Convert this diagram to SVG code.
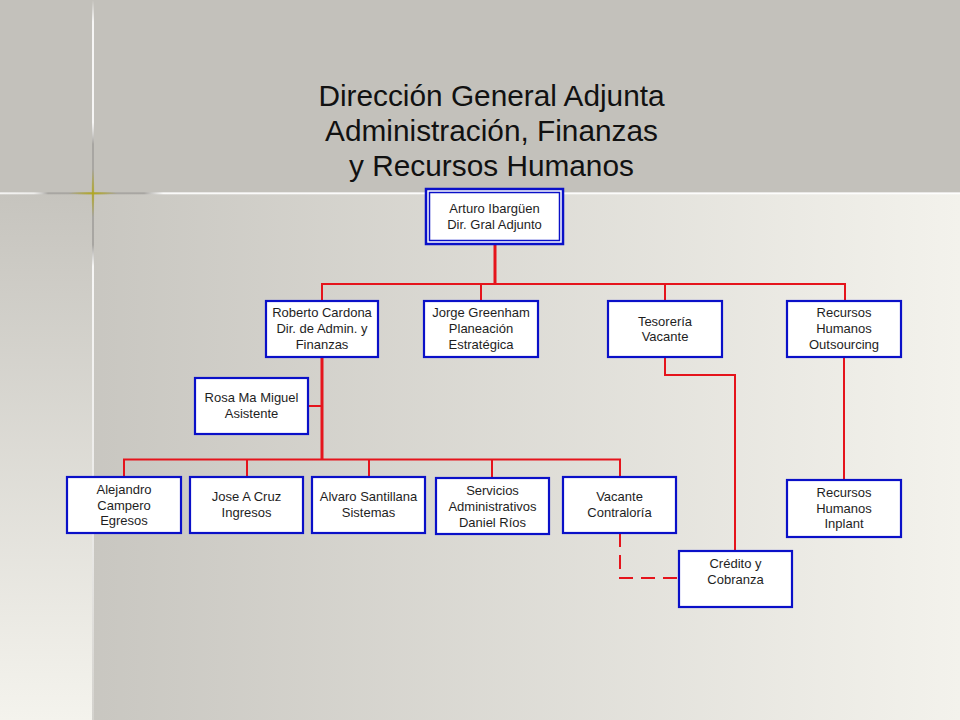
<svg xmlns="http://www.w3.org/2000/svg" width="960" height="720" viewBox="0 0 960 720">
<defs>
<linearGradient id="bgMain" x1="0" y1="0" x2="1" y2="0">
<stop offset="0" stop-color="#c4c2bc"/>
<stop offset="1" stop-color="#f3f2ec"/>
</linearGradient>
<linearGradient id="bgLeft" x1="0" y1="0" x2="0" y2="1">
<stop offset="0" stop-color="#c6c4be"/>
<stop offset="1" stop-color="#f4f3ed"/>
</linearGradient>
<linearGradient id="hLine" x1="0" y1="0" x2="960" y2="0" gradientUnits="userSpaceOnUse">
<stop offset="0" stop-color="#ffffff" stop-opacity="0.8"/>
<stop offset="0.035" stop-color="#ffffff" stop-opacity="0.7"/>
<stop offset="0.05" stop-color="#a8a6a2"/>
<stop offset="0.15" stop-color="#a8a6a2"/>
<stop offset="0.17" stop-color="#ffffff" stop-opacity="0.9"/>
<stop offset="1" stop-color="#ffffff" stop-opacity="0.9"/>
</linearGradient>
<linearGradient id="vLine" x1="0" y1="0" x2="0" y2="720" gradientUnits="userSpaceOnUse">
<stop offset="0" stop-color="#ffffff" stop-opacity="0"/>
<stop offset="0.03" stop-color="#ffffff" stop-opacity="0.85"/>
<stop offset="0.17" stop-color="#ffffff" stop-opacity="0.85"/>
<stop offset="0.2" stop-color="#a8a6a2"/>
<stop offset="0.34" stop-color="#a8a6a2"/>
<stop offset="0.37" stop-color="#ffffff" stop-opacity="0.85"/>
<stop offset="0.75" stop-color="#ffffff" stop-opacity="0.6"/>
<stop offset="1" stop-color="#ffffff" stop-opacity="0.2"/>
</linearGradient>
<radialGradient id="star" cx="0.5" cy="0.5" r="0.5">
<stop offset="0" stop-color="#b3a818"/>
<stop offset="1" stop-color="#b3a818" stop-opacity="0"/>
</radialGradient>
<style>
.box{fill:#ffffff;stroke:#0a10c8;stroke-width:2.2}
.lbl{font-family:"Liberation Sans",Arial,sans-serif;font-size:13px;fill:#1e1e1e;text-anchor:middle}
.title{font-family:"Liberation Sans",Arial,sans-serif;font-size:29.8px;fill:#111111;text-anchor:middle}
.ln{fill:none;stroke:#e5141c;stroke-width:2}
.thick{stroke-width:3}
.dash{stroke-dasharray:14 8}
</style>
</defs>

<g id="background">
<rect x="0" y="0" width="960" height="720" fill="url(#bgMain)"/>
<rect x="0" y="193" width="92" height="527" fill="url(#bgLeft)"/>
<rect x="0" y="0" width="960" height="193" fill="#c3c1bb"/>
<rect x="0" y="192.3" width="960" height="2" fill="url(#hLine)"/>
<rect x="92" y="0" width="2" height="720" fill="url(#vLine)"/>
<rect x="68" y="191.5" width="50" height="3.5" fill="url(#star)"/>
<rect x="91.2" y="168" width="3.5" height="50" fill="url(#star)"/>
</g>

<g id="title">
<text class="title" x="491.5" y="106">Dirección General Adjunta</text>
<text class="title" x="491.5" y="141">Administración, Finanzas</text>
<text class="title" x="491.5" y="176">y Recursos Humanos</text>
</g>

<g id="connectors">
<line class="ln thick" x1="495" y1="245" x2="495" y2="285"/>
<polyline class="ln" points="322,301 322,284 845,284 845,301"/>
<line class="ln" x1="481" y1="284" x2="481" y2="301"/>
<line class="ln" x1="665" y1="284" x2="665" y2="301"/>
<line class="ln thick" x1="322" y1="358" x2="322" y2="460"/>
<line class="ln" x1="308" y1="406" x2="322" y2="406"/>
<polyline class="ln" points="124,477 124,459.5 620,459.5 620,477"/>
<line class="ln" x1="247" y1="459.5" x2="247" y2="477"/>
<line class="ln" x1="369" y1="459.5" x2="369" y2="477"/>
<line class="ln" x1="492" y1="459.5" x2="492" y2="478"/>
<polyline class="ln" points="665,358 665,375 735,375 735,551"/>
<line class="ln" x1="844" y1="358" x2="844" y2="480"/>
<polyline class="ln dash" points="620,533 620,578 679,578"/>
</g>

<g id="node-arturo">
<rect x="426" y="189" width="137" height="55" fill="#ffffff" stroke="#0a10c8" stroke-width="2.5"/>
<rect x="429.5" y="192.5" width="130" height="48" fill="none" stroke="#0a10c8" stroke-width="1.5"/>
<text class="lbl" x="494.5" y="213">Arturo Ibargüen</text>
<text class="lbl" x="494.5" y="229">Dir. Gral Adjunto</text>
</g>

<g id="node-roberto">
<rect class="box" x="266" y="301" width="112" height="56"/>
<text class="lbl" x="322" y="317">Roberto Cardona</text>
<text class="lbl" x="322" y="333">Dir. de Admin. y</text>
<text class="lbl" x="322" y="349">Finanzas</text>
</g>

<g id="node-jorge">
<rect class="box" x="424" y="301" width="114" height="56"/>
<text class="lbl" x="481" y="317">Jorge Greenham</text>
<text class="lbl" x="481" y="333">Planeación</text>
<text class="lbl" x="481" y="349">Estratégica</text>
</g>

<g id="node-tesoreria">
<rect class="box" x="608" y="301" width="114" height="56"/>
<text class="lbl" x="665" y="325.5">Tesorería</text>
<text class="lbl" x="665" y="341">Vacante</text>
</g>

<g id="node-rh-outsourcing">
<rect class="box" x="787" y="301" width="114" height="56"/>
<text class="lbl" x="844" y="317">Recursos</text>
<text class="lbl" x="844" y="333">Humanos</text>
<text class="lbl" x="844" y="349">Outsourcing</text>
</g>

<g id="node-rosa">
<rect class="box" x="195" y="378" width="113" height="56"/>
<text class="lbl" x="251.5" y="401.5">Rosa Ma Miguel</text>
<text class="lbl" x="251.5" y="417.5">Asistente</text>
</g>

<g id="node-alejandro">
<rect class="box" x="67" y="477" width="114" height="56"/>
<text class="lbl" x="124" y="493.5">Alejandro</text>
<text class="lbl" x="124" y="509.5">Campero</text>
<text class="lbl" x="124" y="525">Egresos</text>
</g>

<g id="node-jose">
<rect class="box" x="190" y="477" width="113" height="56"/>
<text class="lbl" x="246.5" y="501">Jose A Cruz</text>
<text class="lbl" x="246.5" y="517">Ingresos</text>
</g>

<g id="node-alvaro">
<rect class="box" x="312" y="477" width="113" height="56"/>
<text class="lbl" x="368.5" y="501">Alvaro Santillana</text>
<text class="lbl" x="368.5" y="517">Sistemas</text>
</g>

<g id="node-servicios">
<rect class="box" x="436" y="478" width="113" height="56"/>
<text class="lbl" x="492.5" y="494.5">Servicios</text>
<text class="lbl" x="492.5" y="510.5">Administrativos</text>
<text class="lbl" x="492.5" y="526.5">Daniel Ríos</text>
</g>

<g id="node-vacante">
<rect class="box" x="563" y="477" width="113" height="56"/>
<text class="lbl" x="619.5" y="501">Vacante</text>
<text class="lbl" x="619.5" y="517">Contraloría</text>
</g>

<g id="node-credito">
<rect class="box" x="679" y="551" width="113" height="56"/>
<text class="lbl" x="735.5" y="567.5">Crédito y</text>
<text class="lbl" x="735.5" y="583.5">Cobranza</text>
</g>

<g id="node-rh-inplant">
<rect class="box" x="787" y="480" width="114" height="57"/>
<text class="lbl" x="844" y="496.5">Recursos</text>
<text class="lbl" x="844" y="512.5">Humanos</text>
<text class="lbl" x="844" y="528">Inplant</text>
</g>
</svg>
